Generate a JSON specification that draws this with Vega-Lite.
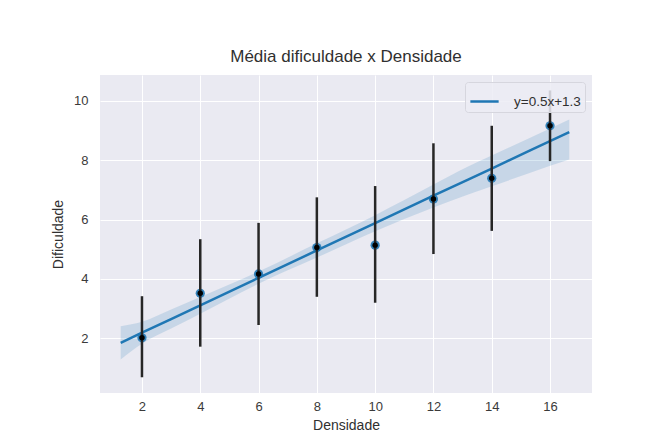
{
  "$schema": "https://vega.github.io/schema/vega-lite/v6.json",
  "width": 492,
  "height": 318,
  "autosize": {"type": "none"},
  "padding": {"left": 100, "top": 75, "right": 59, "bottom": 53},
  "background": "white",
  "title": {"text": "Média dificuldade x Densidade", "fontSize": 17, "font": "Liberation Sans", "fontWeight": "normal", "color": "#303030", "offset": 9},
  "config": {
    "view": {"fill": "#eaeaf2", "stroke": null},
    "axis": {"grid": true, "gridColor": "white", "gridWidth": 1, "domain": false, "ticks": false, "labelFont": "Liberation Sans", "labelFontSize": 13, "labelColor": "#3a3a3a", "titleFont": "Liberation Sans", "titleFontSize": 14, "titleFontWeight": "normal", "titleColor": "#303030"}
  },
  "datasets": {
    "pts": [
      {"x": 2, "y": 2.02, "lo": 0.69, "hi": 3.42},
      {"x": 4, "y": 3.52, "lo": 1.72, "hi": 5.34},
      {"x": 6, "y": 4.17, "lo": 2.45, "hi": 5.89},
      {"x": 8, "y": 5.06, "lo": 3.4, "hi": 6.75},
      {"x": 10, "y": 5.14, "lo": 3.2, "hi": 7.13},
      {"x": 12, "y": 6.69, "lo": 4.84, "hi": 8.57},
      {"x": 14, "y": 7.39, "lo": 5.62, "hi": 9.16},
      {"x": 16, "y": 9.16, "lo": 7.97, "hi": 10.35}
    ],
    "fit": [
      {"x": 1.27, "y": 1.85, "lo": 1.29, "hi": 2.41, "s": "y=0.5x+1.3"},
      {"x": 2, "y": 2.19, "lo": 1.82, "hi": 2.56, "s": "y=0.5x+1.3"},
      {"x": 3, "y": 2.65, "lo": 2.33, "hi": 2.97, "s": "y=0.5x+1.3"},
      {"x": 4, "y": 3.11, "lo": 2.83, "hi": 3.39, "s": "y=0.5x+1.3"},
      {"x": 6, "y": 4.04, "lo": 3.84, "hi": 4.25, "s": "y=0.5x+1.3"},
      {"x": 8, "y": 4.96, "lo": 4.72, "hi": 5.2, "s": "y=0.5x+1.3"},
      {"x": 10, "y": 5.88, "lo": 5.61, "hi": 6.15, "s": "y=0.5x+1.3"},
      {"x": 12, "y": 6.81, "lo": 6.41, "hi": 7.18, "s": "y=0.5x+1.3"},
      {"x": 13.17, "y": 7.34, "lo": 6.84, "hi": 7.78, "s": "y=0.5x+1.3"},
      {"x": 14, "y": 7.72, "lo": 7.12, "hi": 8.16, "s": "y=0.5x+1.3"},
      {"x": 15.3, "y": 8.32, "lo": 7.57, "hi": 8.75, "s": "y=0.5x+1.3"},
      {"x": 16.66, "y": 8.95, "lo": 8.02, "hi": 9.37, "s": "y=0.5x+1.3"}
    ]
  },
  "encoding": {
    "x": {"field": "x", "type": "quantitative", "scale": {"domain": [0.56, 17.44], "nice": false, "zero": false}, "axis": {"values": [2, 4, 6, 8, 10, 12, 14, 16], "title": "Densidade", "labelPadding": 7, "titlePadding": 5}},
    "y": {"field": "y", "type": "quantitative", "scale": {"domain": [0.16, 10.87], "nice": false, "zero": false}, "axis": {"values": [2, 4, 6, 8, 10], "title": "Dificuldade", "labelPadding": 12, "titlePadding": 8}}
  },
  "layer": [
    {
      "data": {"name": "fit"},
      "mark": {"type": "area", "color": "#1f77b4", "opacity": 0.17, "interpolate": "monotone"},
      "encoding": {"y": {"field": "lo", "type": "quantitative"}, "y2": {"field": "hi"}}
    },
    {
      "data": {"name": "pts"},
      "mark": {"type": "circle", "color": "#1f77b4", "opacity": 0.9, "size": 85}
    },
    {
      "data": {"name": "fit"},
      "mark": {"type": "line", "strokeWidth": 2.5},
      "encoding": {
        "color": {"field": "s", "type": "nominal", "scale": {"range": ["#1f77b4"]},
          "legend": {"title": null, "orient": "top-right", "offset": 7, "symbolType": "stroke", "symbolStrokeWidth": 2.5, "symbolSize": 800, "labelFont": "Liberation Sans", "labelFontSize": 13.5, "labelColor": "#303030", "labelOffset": 14, "fillColor": "rgba(236,236,244,0.85)", "strokeColor": "#d6d6de", "cornerRadius": 3, "padding": 4}}
      }
    },
    {
      "data": {"name": "pts"},
      "mark": {"type": "rule", "color": "#262626", "strokeWidth": 2.5},
      "encoding": {"y": {"field": "lo", "type": "quantitative"}, "y2": {"field": "hi"}}
    },
    {
      "data": {"name": "pts"},
      "mark": {"type": "circle", "color": "black", "opacity": 1, "size": 30}
    }
  ]
}
